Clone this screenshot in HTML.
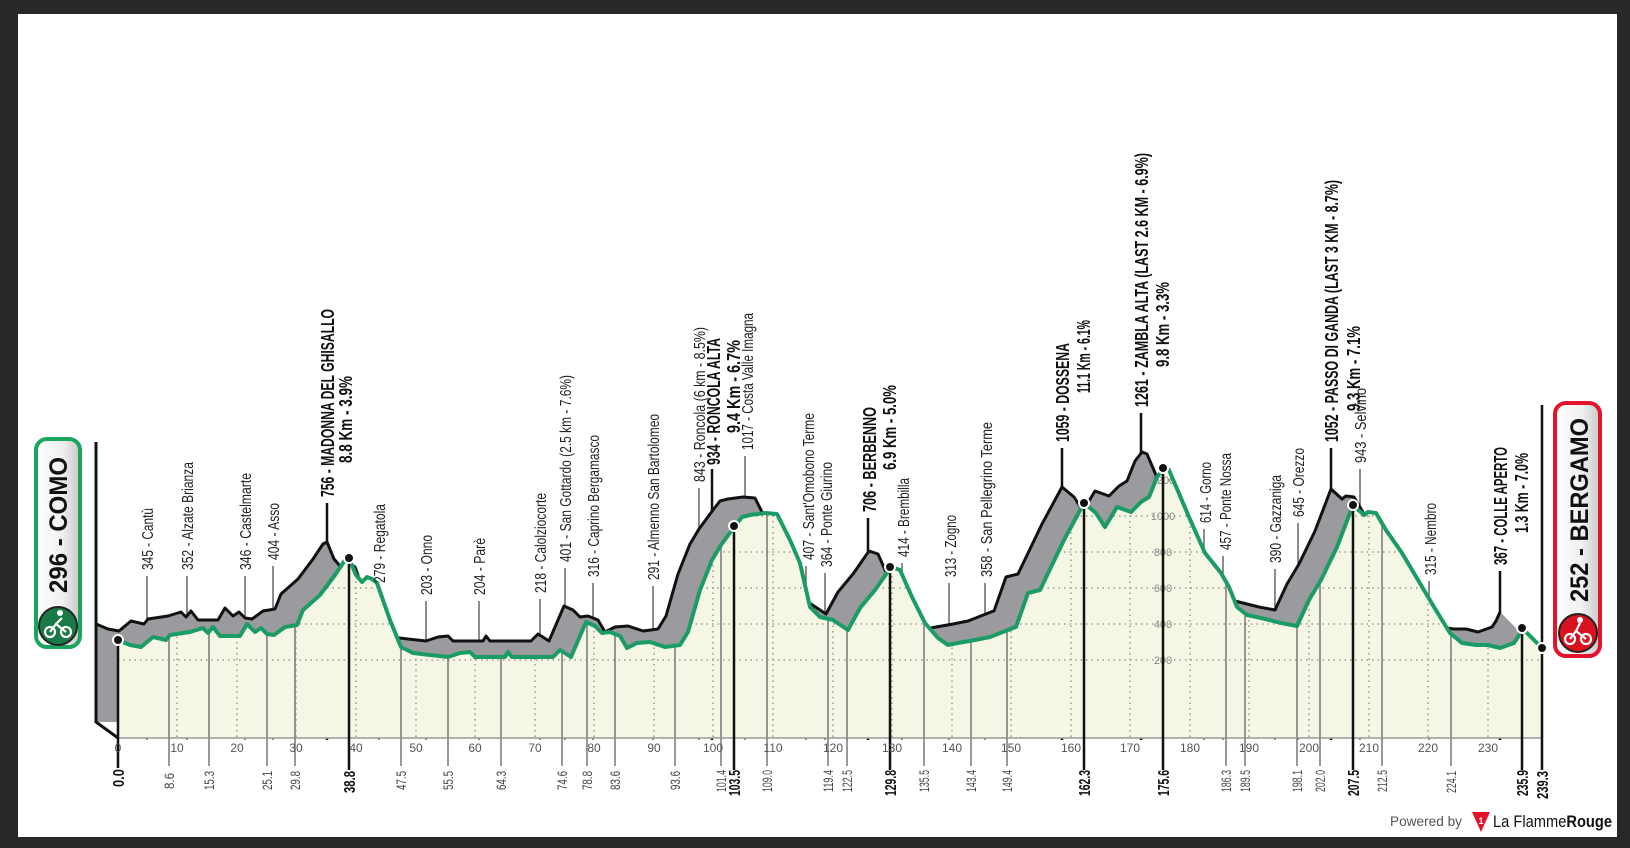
<!DOCTYPE html>
<html><head><meta charset="utf-8">
<style>
html,body{margin:0;padding:0;background:#282828;}
svg{display:block;}
.s{font-family:"Liberation Sans Narrow","Liberation Sans",sans-serif;font-size:16px;fill:#222;}
.b{font-family:"Liberation Sans Narrow","Liberation Sans",sans-serif;font-size:18px;font-weight:bold;fill:#111;}
.k{font-family:"Liberation Sans Narrow","Liberation Sans",sans-serif;font-size:14px;fill:#444;}
.kb{font-family:"Liberation Sans Narrow","Liberation Sans",sans-serif;font-size:16px;font-weight:bold;fill:#111;}
.ax{font-family:"Liberation Sans Narrow","Liberation Sans",sans-serif;font-size:12px;fill:#555;text-anchor:middle;}
.gl{font-family:"Liberation Sans Narrow","Liberation Sans",sans-serif;font-size:11px;fill:#888;text-anchor:middle;}
</style></head>
<body>
<svg width="1630" height="848" viewBox="0 0 1630 848" xmlns="http://www.w3.org/2000/svg">
<defs>
<clipPath id="cr"><path id="prof" d="M118,640 L130,645 L141,647 L153,637 L166,640 L170,635 L190,632 L203,628 L208,633 L213,627 L220,636 L240,636 L247,624 L255,632 L261,628 L267,634 L274,635 L285,627 L297,625 L303,610 L320,595 L335,575 L345,560 L349,558 L356,575 L362,582 L367,577 L372,579 L377,583 L390,620 L401,647 L413,653 L430,655 L448,657 L460,653 L470,652 L475,657 L505,657 L508,652 L512,657 L553,657 L560,650 L571,657 L586,622 L595,626 L602,633 L610,632 L620,636 L627,648 L637,643 L650,642 L665,647 L680,645 L688,632 L700,590 L712,560 L721,545 L735,526 L742,517 L750,515 L765,513 L777,514 L790,540 L800,563 L810,607 L820,617 L833,620 L848,630 L860,608 L875,590 L891,567 L900,570 L912,597 L925,623 L938,638 L948,645 L958,643 L975,640 L990,637 L1013,628 L1016,627 L1028,593 L1040,590 L1064,540 L1084,503 L1096,513 L1105,527 L1117,507 L1131,512 L1141,502 L1149,497 L1157,477 L1164,468 L1169,470 L1189,517 L1205,553 L1221,573 L1229,587 L1237,607 L1247,615 L1261,618 L1281,623 L1297,626 L1309,600 L1321,580 L1337,547 L1353,505 L1364,515 L1368,512 L1376,513 L1386,530 L1402,553 L1418,580 L1434,607 L1450,633 L1462,643 L1476,645 L1488,645 L1500,648 L1514,643 L1518,637 L1522,628 L1542,648 L1542,738 L118,738 Z"/></clipPath>
<linearGradient id="gbox" x1="0" x2="1" y1="0" y2="0"><stop offset="0" stop-color="#ffffff"/><stop offset="0.6" stop-color="#f0f0f0"/><stop offset="1" stop-color="#c8c8c8"/></linearGradient>
</defs>
<rect x="0" y="0" width="1630" height="848" fill="#282828"/>
<rect x="18" y="14" width="1599" height="823" fill="#ffffff"/>

<g stroke="#666" stroke-width="1.5">
<line x1="147" y1="576" x2="147" y2="740"/><line x1="187" y1="576" x2="187" y2="740"/>
<line x1="245" y1="576" x2="245" y2="740"/><line x1="273" y1="566" x2="273" y2="740"/>
<line x1="379" y1="589" x2="379" y2="740"/><line x1="426" y1="601" x2="426" y2="740"/>
<line x1="479" y1="601" x2="479" y2="740"/><line x1="540" y1="599" x2="540" y2="740"/>
<line x1="565" y1="568" x2="565" y2="740"/><line x1="593" y1="583" x2="593" y2="740"/>
<line x1="653" y1="586" x2="653" y2="740"/><line x1="699" y1="488" x2="699" y2="740"/>
<line x1="745" y1="456" x2="745" y2="740"/><line x1="806" y1="566" x2="806" y2="740"/>
<line x1="825" y1="573" x2="825" y2="740"/><line x1="902" y1="563" x2="902" y2="740"/>
<line x1="949" y1="583" x2="949" y2="740"/><line x1="985" y1="583" x2="985" y2="740"/>
<line x1="1204" y1="529" x2="1204" y2="740"/><line x1="1223" y1="556" x2="1223" y2="740"/>
<line x1="1275" y1="569" x2="1275" y2="740"/><line x1="1298" y1="523" x2="1298" y2="740"/>
<line x1="1360" y1="469" x2="1360" y2="740"/><line x1="1429" y1="581" x2="1429" y2="740"/>
</g>
<g stroke="#111" stroke-width="2.5">
<line x1="327" y1="503" x2="327" y2="740"/><line x1="712" y1="469" x2="712" y2="740"/>
<line x1="868" y1="518" x2="868" y2="740"/><line x1="1062" y1="448" x2="1062" y2="740"/>
<line x1="1141" y1="413" x2="1141" y2="740"/><line x1="1331" y1="448" x2="1331" y2="740"/>
<line x1="1500" y1="571" x2="1500" y2="740"/>
</g>

<g transform="translate(-22,-16)">
<use href="#prof" fill="#9b9a9f"/>
</g>
<g transform="translate(-22,-16)" fill="none" stroke="#111" stroke-width="3" stroke-linejoin="round">
<polyline points="118,640 130,645 141,647 153,637 166,640 170,635 190,632 203,628 208,633 213,627 220,636 240,636 247,624 255,632 261,628 267,634 274,635 285,627 297,625 303,610 320,595 335,575 345,560 349,558 356,575 362,582 367,577 372,579 377,583 390,620 401,647 413,653 430,655 448,657 460,653 470,652 475,657 505,657 508,652 512,657 553,657 560,650 571,657 586,622 595,626 602,633 610,632 620,636 627,648 637,643 650,642 665,647 680,645 688,632 700,590 712,560 721,545 735,526 742,517 750,515 765,513 777,514 790,540 800,563 810,607 820,617 833,620 848,630 860,608 875,590 891,567 900,570 912,597 925,623 938,638 948,645 958,643 975,640 990,637 1013,628 1016,627 1028,593 1040,590 1064,540 1084,503 1096,513 1105,527 1117,507 1131,512 1141,502 1149,497 1157,477 1164,468 1169,470 1189,517 1205,553 1221,573 1229,587 1237,607 1247,615 1261,618 1281,623 1297,626 1309,600 1321,580 1337,547 1353,505 1364,515 1368,512 1376,513 1386,530 1402,553 1418,580 1434,607 1450,633 1462,643 1476,645 1488,645 1500,648 1514,643 1518,637 1522,628"/>
</g>
<path d="M96,442 L96,722 L118,738" fill="none" stroke="#111" stroke-width="3"/>

<use href="#prof" fill="#f6f6e4"/>
<g clip-path="url(#cr)">
<g stroke="#999" stroke-width="1.5" stroke-dasharray="1.5,4">
<line x1="118" y1="660" x2="1542" y2="660"/><line x1="118" y1="624" x2="1542" y2="624"/>
<line x1="118" y1="588" x2="1542" y2="588"/><line x1="118" y1="552" x2="1542" y2="552"/>
<line x1="118" y1="516" x2="1542" y2="516"/><line x1="118" y1="480" x2="1542" y2="480"/>
<line x1="177" y1="400" x2="177" y2="738"/><line x1="237" y1="400" x2="237" y2="738"/><line x1="296" y1="400" x2="296" y2="738"/><line x1="356" y1="400" x2="356" y2="738"/><line x1="416" y1="400" x2="416" y2="738"/><line x1="475" y1="400" x2="475" y2="738"/><line x1="535" y1="400" x2="535" y2="738"/><line x1="594" y1="400" x2="594" y2="738"/><line x1="654" y1="400" x2="654" y2="738"/><line x1="713" y1="400" x2="713" y2="738"/><line x1="773" y1="400" x2="773" y2="738"/><line x1="833" y1="400" x2="833" y2="738"/><line x1="892" y1="400" x2="892" y2="738"/><line x1="952" y1="400" x2="952" y2="738"/><line x1="1011" y1="400" x2="1011" y2="738"/><line x1="1071" y1="400" x2="1071" y2="738"/><line x1="1130" y1="400" x2="1130" y2="738"/><line x1="1190" y1="400" x2="1190" y2="738"/><line x1="1249" y1="400" x2="1249" y2="738"/><line x1="1309" y1="400" x2="1309" y2="738"/><line x1="1369" y1="400" x2="1369" y2="738"/><line x1="1428" y1="400" x2="1428" y2="738"/><line x1="1488" y1="400" x2="1488" y2="738"/>
</g>
<g stroke="#777" stroke-width="1.5">
<line x1="169" y1="400" x2="169" y2="738"/><line x1="209" y1="400" x2="209" y2="738"/><line x1="267" y1="400" x2="267" y2="738"/><line x1="295" y1="400" x2="295" y2="738"/><line x1="401" y1="400" x2="401" y2="738"/><line x1="448" y1="400" x2="448" y2="738"/><line x1="501" y1="400" x2="501" y2="738"/><line x1="562" y1="400" x2="562" y2="738"/><line x1="587" y1="400" x2="587" y2="738"/><line x1="615" y1="400" x2="615" y2="738"/><line x1="675" y1="400" x2="675" y2="738"/><line x1="721" y1="400" x2="721" y2="738"/><line x1="767" y1="400" x2="767" y2="738"/><line x1="828" y1="400" x2="828" y2="738"/><line x1="847" y1="400" x2="847" y2="738"/><line x1="924" y1="400" x2="924" y2="738"/><line x1="971" y1="400" x2="971" y2="738"/><line x1="1007" y1="400" x2="1007" y2="738"/><line x1="1226" y1="400" x2="1226" y2="738"/><line x1="1245" y1="400" x2="1245" y2="738"/><line x1="1297" y1="400" x2="1297" y2="738"/><line x1="1320" y1="400" x2="1320" y2="738"/><line x1="1382" y1="400" x2="1382" y2="738"/><line x1="1451" y1="400" x2="1451" y2="738"/>
</g>
</g>
<g class="gl"><text x="1163" y="664">200</text><text x="1163" y="628">400</text><text x="1163" y="592">600</text><text x="1163" y="556">800</text><text x="1163" y="520">1000</text><text x="1163" y="484">1200</text></g>
<polyline fill="none" stroke="#1b9c66" stroke-width="4" stroke-linejoin="round" points="118,640 130,645 141,647 153,637 166,640 170,635 190,632 203,628 208,633 213,627 220,636 240,636 247,624 255,632 261,628 267,634 274,635 285,627 297,625 303,610 320,595 335,575 345,560 349,558 356,575 362,582 367,577 372,579 377,583 390,620 401,647 413,653 430,655 448,657 460,653 470,652 475,657 505,657 508,652 512,657 553,657 560,650 571,657 586,622 595,626 602,633 610,632 620,636 627,648 637,643 650,642 665,647 680,645 688,632 700,590 712,560 721,545 735,526 742,517 750,515 765,513 777,514 790,540 800,563 810,607 820,617 833,620 848,630 860,608 875,590 891,567 900,570 912,597 925,623 938,638 948,645 958,643 975,640 990,637 1013,628 1016,627 1028,593 1040,590 1064,540 1084,503 1096,513 1105,527 1117,507 1131,512 1141,502 1149,497 1157,477 1164,468 1169,470 1189,517 1205,553 1221,573 1229,587 1237,607 1247,615 1261,618 1281,623 1297,626 1309,600 1321,580 1337,547 1353,505 1364,515 1368,512 1376,513 1386,530 1402,553 1418,580 1434,607 1450,633 1462,643 1476,645 1488,645 1500,648 1514,643 1518,637 1522,628 1542,648"/>

<line x1="118" y1="738" x2="1542" y2="738" stroke="#999" stroke-width="1.5"/>
<g stroke="#777" stroke-width="1.5">
<line x1="169" y1="738" x2="169" y2="766"/><line x1="209" y1="738" x2="209" y2="766"/><line x1="267" y1="738" x2="267" y2="766"/><line x1="295" y1="738" x2="295" y2="766"/><line x1="401" y1="738" x2="401" y2="766"/><line x1="448" y1="738" x2="448" y2="766"/><line x1="501" y1="738" x2="501" y2="766"/><line x1="562" y1="738" x2="562" y2="766"/><line x1="587" y1="738" x2="587" y2="766"/><line x1="615" y1="738" x2="615" y2="766"/><line x1="675" y1="738" x2="675" y2="766"/><line x1="721" y1="738" x2="721" y2="766"/><line x1="767" y1="738" x2="767" y2="766"/><line x1="828" y1="738" x2="828" y2="766"/><line x1="847" y1="738" x2="847" y2="766"/><line x1="924" y1="738" x2="924" y2="766"/><line x1="971" y1="738" x2="971" y2="766"/><line x1="1007" y1="738" x2="1007" y2="766"/><line x1="1226" y1="738" x2="1226" y2="766"/><line x1="1245" y1="738" x2="1245" y2="766"/><line x1="1297" y1="738" x2="1297" y2="766"/><line x1="1320" y1="738" x2="1320" y2="766"/><line x1="1382" y1="738" x2="1382" y2="766"/><line x1="1451" y1="738" x2="1451" y2="766"/>
</g>
<g stroke="#111" stroke-width="2.5">
<line x1="118" y1="640" x2="118" y2="768"/><line x1="349" y1="558" x2="349" y2="770"/><line x1="734" y1="526" x2="734" y2="770"/><line x1="890" y1="567" x2="890" y2="770"/><line x1="1084" y1="503" x2="1084" y2="770"/><line x1="1163" y1="468" x2="1163" y2="770"/><line x1="1353" y1="505" x2="1353" y2="770"/><line x1="1522" y1="628" x2="1522" y2="770"/><line x1="1542" y1="405" x2="1542" y2="770"/>
</g>
<g fill="#111" stroke="#fff" stroke-width="2">
<circle cx="118" cy="640" r="5"/><circle cx="349" cy="558" r="5"/><circle cx="734" cy="526" r="5"/><circle cx="890" cy="567" r="5"/><circle cx="1084" cy="503" r="5"/><circle cx="1163" cy="468" r="5"/><circle cx="1353" cy="505" r="5"/><circle cx="1522" cy="628" r="5"/><circle cx="1542" cy="648" r="5"/>
</g>
<g class="ax">
<text x="118" y="752">0</text><text x="177" y="752">10</text><text x="237" y="752">20</text><text x="296" y="752">30</text><text x="356" y="752">40</text><text x="416" y="752">50</text><text x="475" y="752">60</text><text x="535" y="752">70</text><text x="594" y="752">80</text><text x="654" y="752">90</text><text x="713" y="752">100</text><text x="773" y="752">110</text><text x="833" y="752">120</text><text x="892" y="752">130</text><text x="952" y="752">140</text><text x="1011" y="752">150</text><text x="1071" y="752">160</text><text x="1130" y="752">170</text><text x="1190" y="752">180</text><text x="1249" y="752">190</text><text x="1309" y="752">200</text><text x="1369" y="752">210</text><text x="1428" y="752">220</text><text x="1488" y="752">230</text>
</g>

<g class="k">
<text transform="translate(174,789) rotate(-90)" textLength="16" lengthAdjust="spacingAndGlyphs">8.6</text>
<text transform="translate(214,790) rotate(-90)" textLength="19" lengthAdjust="spacingAndGlyphs">15.3</text>
<text transform="translate(272,790) rotate(-90)" textLength="19" lengthAdjust="spacingAndGlyphs">25.1</text>
<text transform="translate(300,790) rotate(-90)" textLength="19" lengthAdjust="spacingAndGlyphs">29.8</text>
<text transform="translate(406,790) rotate(-90)" textLength="19" lengthAdjust="spacingAndGlyphs">47.5</text>
<text transform="translate(453,790) rotate(-90)" textLength="19" lengthAdjust="spacingAndGlyphs">55.5</text>
<text transform="translate(506,790) rotate(-90)" textLength="19" lengthAdjust="spacingAndGlyphs">64.3</text>
<text transform="translate(567,790) rotate(-90)" textLength="19" lengthAdjust="spacingAndGlyphs">74.6</text>
<text transform="translate(592,790) rotate(-90)" textLength="19" lengthAdjust="spacingAndGlyphs">78.8</text>
<text transform="translate(620,790) rotate(-90)" textLength="19" lengthAdjust="spacingAndGlyphs">83.6</text>
<text transform="translate(680,790) rotate(-90)" textLength="19" lengthAdjust="spacingAndGlyphs">93.6</text>
<text transform="translate(726,792) rotate(-90)" textLength="22" lengthAdjust="spacingAndGlyphs">101.4</text>
<text transform="translate(772,792) rotate(-90)" textLength="22" lengthAdjust="spacingAndGlyphs">109.0</text>
<text transform="translate(833,792) rotate(-90)" textLength="22" lengthAdjust="spacingAndGlyphs">119.4</text>
<text transform="translate(852,792) rotate(-90)" textLength="22" lengthAdjust="spacingAndGlyphs">122.5</text>
<text transform="translate(929,792) rotate(-90)" textLength="22" lengthAdjust="spacingAndGlyphs">135.5</text>
<text transform="translate(976,792) rotate(-90)" textLength="22" lengthAdjust="spacingAndGlyphs">143.4</text>
<text transform="translate(1012,792) rotate(-90)" textLength="22" lengthAdjust="spacingAndGlyphs">149.4</text>
<text transform="translate(1231,792) rotate(-90)" textLength="22" lengthAdjust="spacingAndGlyphs">186.3</text>
<text transform="translate(1250,792) rotate(-90)" textLength="22" lengthAdjust="spacingAndGlyphs">189.5</text>
<text transform="translate(1302,792) rotate(-90)" textLength="22" lengthAdjust="spacingAndGlyphs">198.1</text>
<text transform="translate(1325,792) rotate(-90)" textLength="22" lengthAdjust="spacingAndGlyphs">202.0</text>
<text transform="translate(1387,792) rotate(-90)" textLength="22" lengthAdjust="spacingAndGlyphs">212.5</text>
<text transform="translate(1456,793) rotate(-90)" textLength="22" lengthAdjust="spacingAndGlyphs">224.1</text>
</g>
<g class="kb">
<text transform="translate(124,787) rotate(-90)" textLength="18" lengthAdjust="spacingAndGlyphs">0.0</text>
<text transform="translate(355,793) rotate(-90)" textLength="22" lengthAdjust="spacingAndGlyphs">38.8</text>
<text transform="translate(740,796) rotate(-90)" textLength="26" lengthAdjust="spacingAndGlyphs">103.5</text>
<text transform="translate(896,796) rotate(-90)" textLength="26" lengthAdjust="spacingAndGlyphs">129.8</text>
<text transform="translate(1090,796) rotate(-90)" textLength="26" lengthAdjust="spacingAndGlyphs">162.3</text>
<text transform="translate(1169,796) rotate(-90)" textLength="26" lengthAdjust="spacingAndGlyphs">175.6</text>
<text transform="translate(1359,796) rotate(-90)" textLength="26" lengthAdjust="spacingAndGlyphs">207.5</text>
<text transform="translate(1528,796) rotate(-90)" textLength="26" lengthAdjust="spacingAndGlyphs">235.9</text>
<text transform="translate(1548,799) rotate(-90)" textLength="28" lengthAdjust="spacingAndGlyphs">239.3</text>
</g>

<g class="s">
<text transform="translate(153,570) rotate(-90)" textLength="62" lengthAdjust="spacingAndGlyphs">345 - Cantù</text>
<text transform="translate(193,570) rotate(-90)" textLength="108" lengthAdjust="spacingAndGlyphs">352 - Alzate Brianza</text>
<text transform="translate(251,570) rotate(-90)" textLength="97" lengthAdjust="spacingAndGlyphs">346 - Castelmarte</text>
<text transform="translate(279,560) rotate(-90)" textLength="57" lengthAdjust="spacingAndGlyphs">404 - Asso</text>
<text transform="translate(385,583) rotate(-90)" textLength="79" lengthAdjust="spacingAndGlyphs">279 - Regatola</text>
<text transform="translate(432,595) rotate(-90)" textLength="60" lengthAdjust="spacingAndGlyphs">203 - Onno</text>
<text transform="translate(485,595) rotate(-90)" textLength="57" lengthAdjust="spacingAndGlyphs">204 - Parè</text>
<text transform="translate(546,593) rotate(-90)" textLength="100" lengthAdjust="spacingAndGlyphs">218 - Calolziocorte</text>
<text transform="translate(571,562) rotate(-90)" textLength="187" lengthAdjust="spacingAndGlyphs">401 - San Gottardo (2.5 km - 7.6%)</text>
<text transform="translate(599,577) rotate(-90)" textLength="142" lengthAdjust="spacingAndGlyphs">316 - Caprino Bergamasco</text>
<text transform="translate(659,580) rotate(-90)" textLength="166" lengthAdjust="spacingAndGlyphs">291 - Almenno San Bartolomeo</text>
<text transform="translate(705,482) rotate(-90)" textLength="155" lengthAdjust="spacingAndGlyphs">843 - Roncola (6 km - 8.5%)</text>
<text transform="translate(753,450) rotate(-90)" textLength="137" lengthAdjust="spacingAndGlyphs">1017 - Costa Valle Imagna</text>
<text transform="translate(814,560) rotate(-90)" textLength="147" lengthAdjust="spacingAndGlyphs">407 - Sant'Omobono Terme</text>
<text transform="translate(832,567) rotate(-90)" textLength="105" lengthAdjust="spacingAndGlyphs">364 - Ponte Giurino</text>
<text transform="translate(909,557) rotate(-90)" textLength="79" lengthAdjust="spacingAndGlyphs">414 - Brembilla</text>
<text transform="translate(956,577) rotate(-90)" textLength="62" lengthAdjust="spacingAndGlyphs">313 - Zogno</text>
<text transform="translate(992,577) rotate(-90)" textLength="155" lengthAdjust="spacingAndGlyphs">358 - San Pellegrino Terme</text>
<text transform="translate(1211,523) rotate(-90)" textLength="61" lengthAdjust="spacingAndGlyphs">614 - Gorno</text>
<text transform="translate(1231,550) rotate(-90)" textLength="97" lengthAdjust="spacingAndGlyphs">457 - Ponte Nossa</text>
<text transform="translate(1281,563) rotate(-90)" textLength="88" lengthAdjust="spacingAndGlyphs">390 - Gazzaniga</text>
<text transform="translate(1304,517) rotate(-90)" textLength="69" lengthAdjust="spacingAndGlyphs">645 - Orezzo</text>
<text transform="translate(1366,463) rotate(-90)" textLength="75" lengthAdjust="spacingAndGlyphs">943 - Selvino</text>
<text transform="translate(1436,575) rotate(-90)" textLength="72" lengthAdjust="spacingAndGlyphs">315 - Nembro</text>
</g>
<g class="b">
<text transform="translate(334,497) rotate(-90)" textLength="188" lengthAdjust="spacingAndGlyphs">756 - MADONNA DEL GHISALLO</text>
<text transform="translate(352,463) rotate(-90)" textLength="87" lengthAdjust="spacingAndGlyphs">8.8 Km - 3.9%</text>
<text transform="translate(720,465) rotate(-90)" textLength="127" lengthAdjust="spacingAndGlyphs">934 - RONCOLA ALTA</text>
<text transform="translate(740,433) rotate(-90)" textLength="93" lengthAdjust="spacingAndGlyphs">9.4 Km - 6.7%</text>
<text transform="translate(876,512) rotate(-90)" textLength="105" lengthAdjust="spacingAndGlyphs">706 - BERBENNO</text>
<text transform="translate(896,470) rotate(-90)" textLength="85" lengthAdjust="spacingAndGlyphs">6.9 Km - 5.0%</text>
<text transform="translate(1069,442) rotate(-90)" textLength="99" lengthAdjust="spacingAndGlyphs">1059 - DOSSENA</text>
<text transform="translate(1090,393) rotate(-90)" textLength="73" lengthAdjust="spacingAndGlyphs">11.1 Km - 6.1%</text>
<text transform="translate(1148,407) rotate(-90)" textLength="254" lengthAdjust="spacingAndGlyphs">1261 - ZAMBLA ALTA (LAST 2.6 KM - 6.9%)</text>
<text transform="translate(1169,367) rotate(-90)" textLength="85" lengthAdjust="spacingAndGlyphs">9.8 Km - 3.3%</text>
<text transform="translate(1338,442) rotate(-90)" textLength="262" lengthAdjust="spacingAndGlyphs">1052 - PASSO DI GANDA (LAST 3 KM - 8.7%)</text>
<text transform="translate(1360,411) rotate(-90)" textLength="85" lengthAdjust="spacingAndGlyphs">9.3 Km - 7.1%</text>
<text transform="translate(1507,565) rotate(-90)" textLength="118" lengthAdjust="spacingAndGlyphs">367 - COLLE APERTO</text>
<text transform="translate(1528,533) rotate(-90)" textLength="80" lengthAdjust="spacingAndGlyphs">1.3 Km - 7.0%</text>
</g>

<rect x="36" y="439" width="44" height="208" rx="11" fill="url(#gbox)" stroke="#1aa55f" stroke-width="4"/>
<text transform="translate(67,593) rotate(-90)" textLength="136" lengthAdjust="spacingAndGlyphs" style="font-family:'Liberation Sans',sans-serif;font-size:25px;font-weight:bold;fill:#111">296 - COMO</text>
<circle cx="58" cy="626" r="19" fill="#1a7a45" stroke="#222" stroke-width="2"/>
<g fill="none" stroke="#fff" stroke-width="2.2"><circle cx="50" cy="632" r="5"/><circle cx="66" cy="632" r="5"/><path d="M50,632 L56,624 L66,632 M56,624 L62,618"/></g>
<circle cx="60" cy="613" r="3" fill="#fff"/>

<rect x="1555" y="403" width="45" height="253" rx="11" fill="url(#gbox)" stroke="#e5122b" stroke-width="4"/>
<text transform="translate(1588,602) rotate(-90)" textLength="184" lengthAdjust="spacingAndGlyphs" style="font-family:'Liberation Sans',sans-serif;font-size:25px;font-weight:bold;fill:#111">252 - BERGAMO</text>
<circle cx="1578" cy="633" r="19" fill="#d9121f" stroke="#222" stroke-width="2"/>
<g fill="none" stroke="#fff" stroke-width="2.2"><circle cx="1570" cy="639" r="5"/><circle cx="1586" cy="639" r="5"/><path d="M1570,639 L1576,631 L1586,639 M1576,631 L1580,623"/></g>
<circle cx="1580" cy="620" r="3" fill="#fff"/>

<text x="1390" y="826" style="font-family:'Liberation Sans',sans-serif;font-size:14px;fill:#555" textLength="72" lengthAdjust="spacingAndGlyphs">Powered by</text>
<polygon points="1472,812 1490,812 1481,832" fill="#e5122b"/>
<text x="1481" y="824" text-anchor="middle" style="font-family:'Liberation Sans',sans-serif;font-size:9px;font-weight:bold;fill:#fff">1</text>
<text x="1493" y="827" style="font-family:'Liberation Sans',sans-serif;font-size:17px;fill:#111" textLength="119" lengthAdjust="spacingAndGlyphs">La Flamme<tspan font-weight="bold">Rouge</tspan></text>
</svg>
</body></html>
